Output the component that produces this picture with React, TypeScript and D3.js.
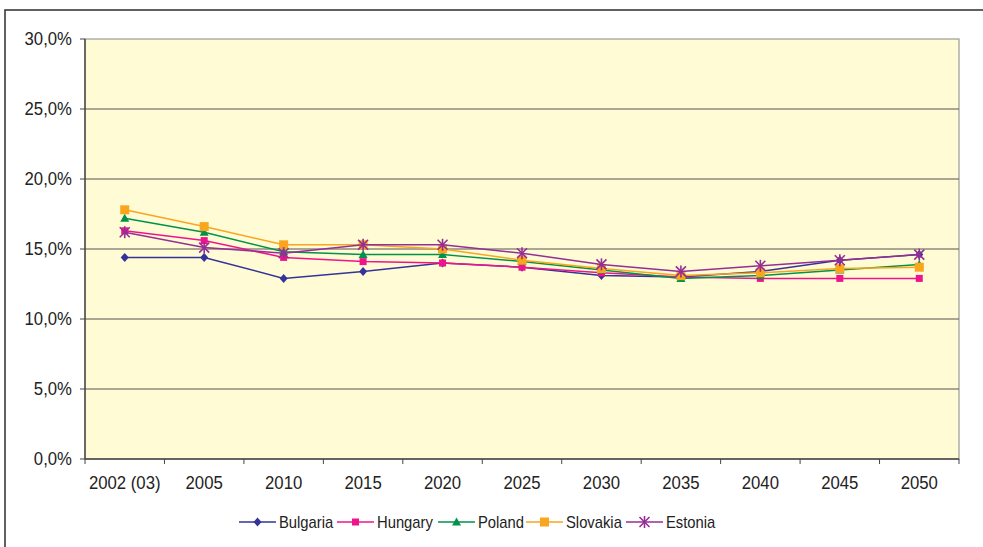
import React from "react";
import * as d3 from "d3";

const categories = ["2002 (03)", "2005", "2010", "2015", "2020", "2025", "2030", "2035", "2040", "2045", "2050"];
const bulgaria = [14.4, 14.4, 12.9, 13.4, 14.0, 13.7, 13.1, 13.0, 13.4, 14.2, 14.6];
const hungary = [16.3, 15.6, 14.4, 14.1, 14.0, 13.7, 13.3, 13.0, 12.9, 12.9, 12.9];
const poland = [17.2, 16.2, 14.8, 14.6, 14.6, 14.1, 13.5, 12.9, 13.1, 13.5, 13.9];
const slovakia = [17.8, 16.6, 15.3, 15.3, 15.0, 14.2, 13.6, 13.1, 13.3, 13.6, 13.7];
const estonia = [16.2, 15.1, 14.7, 15.3, 15.3, 14.7, 13.9, 13.4, 13.8, 14.2, 14.6];
const yTicks = [0, 5, 10, 15, 20, 25, 30];
const seriesNames = ["Bulgaria", "Hungary", "Poland", "Slovakia", "Estonia"];

type Marker = "diamond" | "square" | "triangle" | "bigsquare" | "asterisk";

const series: { name: string; values: number[]; color: string; marker: Marker }[] = [
  { name: seriesNames[0], values: bulgaria, color: "#333399", marker: "diamond" },
  { name: seriesNames[1], values: hungary, color: "#F0148C", marker: "square" },
  { name: seriesNames[2], values: poland, color: "#00924A", marker: "triangle" },
  { name: seriesNames[3], values: slovakia, color: "#F9A51E", marker: "bigsquare" },
  { name: seriesNames[4], values: estonia, color: "#952E95", marker: "asterisk" },
];

function MarkerShape({ type, x, y, color }: { type: Marker; x: number; y: number; color: string }) {
  switch (type) {
    case "diamond":
      return <path d={`M${x},${y - 4.5}L${x + 4},${y}L${x},${y + 4.5}L${x - 4},${y}Z`} fill={color} />;
    case "square":
      return <rect x={x - 3.5} y={y - 3.5} width={7} height={7} fill={color} />;
    case "triangle":
      return <path d={`M${x},${y - 4.5}L${x + 4.5},${y + 3.5}L${x - 4.5},${y + 3.5}Z`} fill={color} />;
    case "bigsquare":
      return <rect x={x - 4.5} y={y - 4.5} width={9} height={9} fill={color} />;
    case "asterisk": {
      const r = 5;
      return (
        <g stroke={color} strokeWidth={1.6}>
          <line x1={x - r} y1={y - r} x2={x + r} y2={y + r} />
          <line x1={x - r} y1={y + r} x2={x + r} y2={y - r} />
          <line x1={x} y1={y - r - 1} x2={x} y2={y + r + 1} />
        </g>
      );
    }
  }
}

function Label({ x, y, size, sx, anchor, children }: { x: number; y: number; size: number; sx: number; anchor: "start" | "middle" | "end"; children: React.ReactNode }) {
  return (
    <g transform={`translate(${x},${y}) scale(${sx},1)`}>
      <text x={0} y={0} textAnchor={anchor} fontFamily="'Liberation Sans', Arial, sans-serif" fontSize={size} fill="#222">
        {children}
      </text>
    </g>
  );
}

export default function App() {
  const W = 983, H = 547;
  const left = 85, right = 959, top = 39, bottom = 459;
  const x = d3.scaleBand<string>().domain(categories).range([left, right]);
  const y = d3.scaleLinear().domain([0, 30]).range([bottom, top]);
  const cx = (c: string) => (x(c) as number) + x.bandwidth() / 2;
  const line = d3
    .line<number>()
    .x((_, i) => cx(categories[i]))
    .y((v) => y(v));

  const legendItems = [
    { lx: 239, tx: 279 },
    { lx: 337, tx: 377 },
    { lx: 438, tx: 478 },
    { lx: 526, tx: 566 },
    { lx: 626, tx: 666 },
  ];

  return (
    <svg width={W} height={H} style={{ position: "absolute", left: 0, top: 0, background: "#fff" }}>
      <rect x={5} y={10} width={1200} height={800} fill="#fff" stroke="#3a3a3a" strokeWidth={1.6} />
      <rect x={left} y={top} width={right - left} height={bottom - top} fill="#FFFBD5" stroke="#9a9a9a" strokeWidth={1.2} />
      {yTicks.map((t) => (
        <g key={t}>
          {t > 0 && t < 30 && <line x1={left} x2={right} y1={y(t)} y2={y(t)} stroke="#555" strokeWidth={1} />}
          <line x1={left - 5} x2={left} y1={y(t)} y2={y(t)} stroke="#444" strokeWidth={1} />
          <Label x={72} y={y(t) + 6} size={18} sx={0.93} anchor="end">
            {t.toFixed(1).replace(".", ",")}%
          </Label>
        </g>
      ))}
      <line x1={left} x2={left} y1={top} y2={bottom} stroke="#444" strokeWidth={1.4} />
      <line x1={left} x2={right} y1={bottom} y2={bottom} stroke="#444" strokeWidth={1.4} />
      {categories.map((c, i) => (
        <g key={c}>
          <line x1={x(c) as number} x2={x(c) as number} y1={bottom} y2={bottom + 5} stroke="#444" />
          {i === categories.length - 1 && <line x1={right} x2={right} y1={bottom} y2={bottom + 5} stroke="#444" />}
          <Label x={cx(c)} y={489} size={18} sx={0.93} anchor="middle">
            {c}
          </Label>
        </g>
      ))}
      {series.map((s) => (
        <g key={s.name}>
          <path d={line(s.values) || ""} fill="none" stroke={s.color} strokeWidth={1.5} />
          {s.values.map((v, i) => (
            <MarkerShape key={i} type={s.marker} x={cx(categories[i])} y={y(v)} color={s.color} />
          ))}
        </g>
      ))}
      {series.map((s, i) => {
        const li = legendItems[i];
        return (
          <g key={s.name}>
            <line x1={li.lx} x2={li.lx + 37} y1={522} y2={522} stroke={s.color} strokeWidth={1.5} />
            <MarkerShape type={s.marker} x={li.lx + 18.5} y={522} color={s.color} />
            <Label x={li.tx} y={527.5} size={17} sx={0.87} anchor="start">
              {s.name}
            </Label>
          </g>
        );
      })}
    </svg>
  );
}
